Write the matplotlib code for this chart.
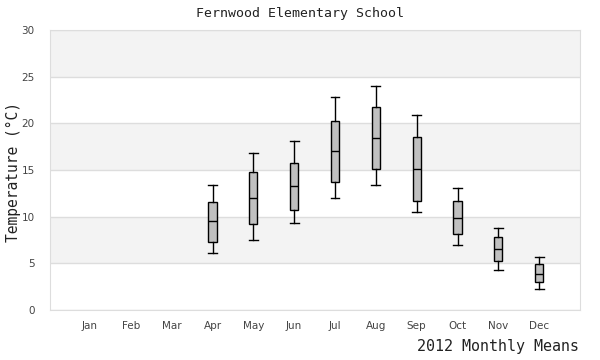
import numpy as np
import matplotlib.pyplot as plt

months = ["Jan", "Feb", "Mar", "Apr", "May", "Jun",
          "Jul", "Aug", "Sep", "Oct", "Nov", "Dec"]
# only Apr..Dec have data
data_months = ["Apr", "May", "Jun", "Jul", "Aug", "Sep", "Oct", "Nov", "Dec"]
whis_lo = [6.1, 7.5, 9.3, 12.0, 13.4, 10.5, 7.0, 4.3, 2.2]
q1 = [7.3, 9.2, 10.7, 13.7, 15.1, 11.7, 8.1, 5.2, 3.0]
med = [9.5, 12.0, 13.3, 17.0, 18.4, 15.1, 9.9, 6.5, 3.9]
q3 = [11.6, 14.8, 15.8, 20.2, 21.7, 18.5, 11.7, 7.8, 4.9]
whis_hi = [13.4, 16.8, 18.1, 22.8, 24.0, 20.9, 13.1, 8.8, 5.7]

fig = plt.figure(figsize=(6, 3.6), dpi=100)
ax = fig.add_axes([50/600, 50/360, 530/600, 280/360])

# alternating bands
for lo in range(0, 30, 5):
    if (lo // 5) % 2 == 1:
        ax.axhspan(lo, lo + 5, color="#f3f3f3", zorder=0, lw=0)
for y in range(0, 31, 5):
    ax.axhline(y, color="#dddddd", lw=1, zorder=1)

stats = []
for i, m in enumerate(data_months):
    stats.append(dict(whislo=whis_lo[i], q1=q1[i], med=med[i],
                      q3=q3[i], whishi=whis_hi[i], fliers=[]))
pos = [months.index(m) for m in data_months]
ax.bxp(stats, positions=pos, widths=0.2, patch_artist=True, showfliers=False,
       boxprops=dict(facecolor="#c0c0c0", edgecolor="black", lw=1),
       medianprops=dict(color="black", lw=1),
       whiskerprops=dict(color="black", lw=1),
       capprops=dict(color="black", lw=1), capwidths=0.22, zorder=3)

ax.set_xlim(-0.98, 12.0)
ax.set_ylim(0, 30)
ax.set_xticks(range(12))
ax.set_xticklabels(months)
ax.set_yticks(range(0, 31, 5))
ax.tick_params(length=0, labelsize=7.5, colors="#444444", pad=8)
ax.tick_params(axis="y", pad=11)
for s in ax.spines.values():
    s.set_color("#dddddd")

mono = "DejaVu Sans Mono"
fig.text(0.5, 1 - 14/360, "Fernwood Elementary School", ha="center", va="center",
         family=mono, fontsize=9.5, color="#222222")
fig.text(13/600, 1 - 172/360, "Temperature (°C)", ha="center", va="center",
         rotation=90, family=mono, fontsize=10.5, color="#222222")
fig.text(579/600, 1 - 347/360, "2012 Monthly Means", ha="right", va="center",
         family=mono, fontsize=10.8, color="#222222")

fig.savefig("out.png", dpi=100)
